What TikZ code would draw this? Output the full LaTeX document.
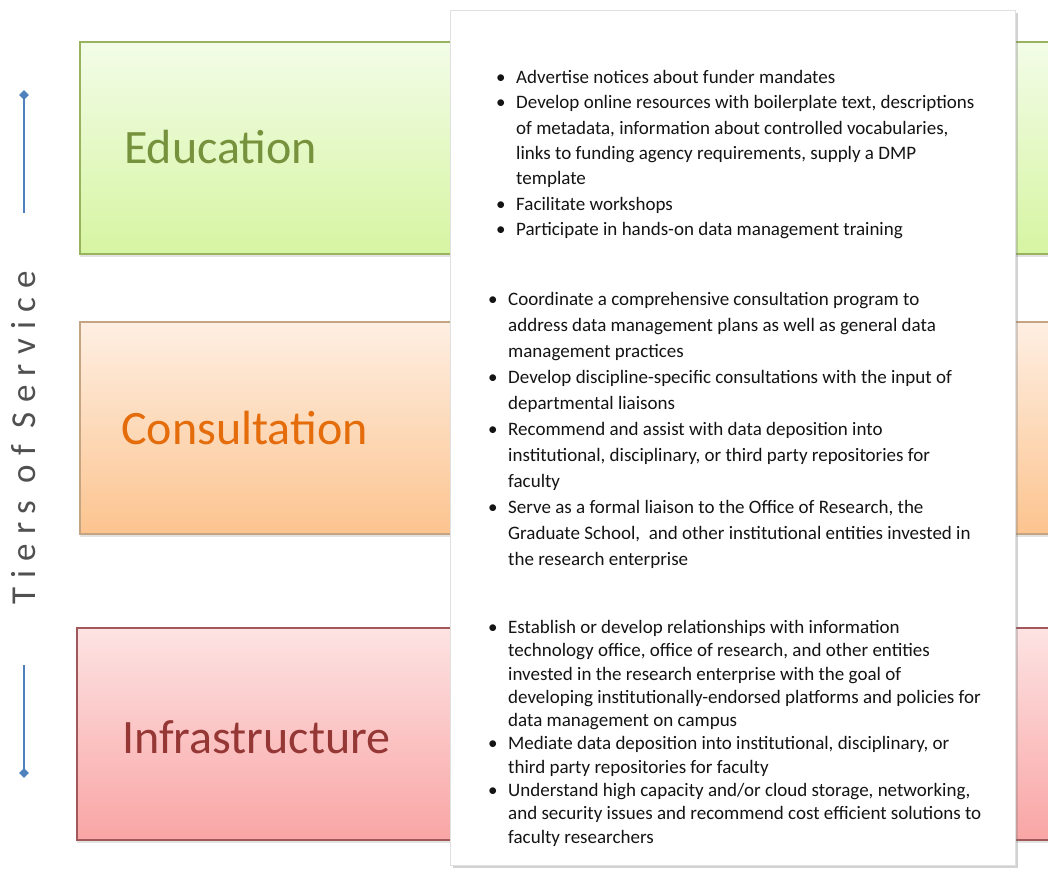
\documentclass[tikz,border=0pt]{standalone}
\usepackage{fontspec}
\setmainfont{Carlito}
\usetikzlibrary{shadows,shapes.geometric}
\definecolor{eduTop}{HTML}{F3FCE8}
\definecolor{eduBot}{HTML}{D6F5A2}
\definecolor{eduLine}{HTML}{98B25E}
\definecolor{eduText}{HTML}{76923C}
\definecolor{conTop}{HTML}{FEEFE3}
\definecolor{conBot}{HTML}{FCC48F}
\definecolor{conLine}{HTML}{C4A482}
\definecolor{conText}{HTML}{E46C0A}
\definecolor{infTop}{HTML}{FDE3E3}
\definecolor{infBot}{HTML}{F9A5A5}
\definecolor{infLine}{HTML}{A0585A}
\definecolor{infText}{HTML}{953735}
\definecolor{axisBlue}{HTML}{4F81BD}
\definecolor{tierGray}{HTML}{505050}
\definecolor{bodyText}{HTML}{141414}
\newcommand\bl{\makebox[20pt][l]{\textbullet}}
\newcommand\ct{\hspace*{20pt}}
\begin{document}
\begin{tikzpicture}[x=1pt,y=-1pt,
  band/.style={draw, line width=1.1pt, inner sep=0pt, minimum height=212pt,
    drop shadow={shadow xshift=0pt, shadow yshift=-2.5pt, opacity=0.22}},
  lbl/.style={anchor=base west, inner sep=0pt, font=\fontsize{48}{56}\selectfont},
  panelbox/.style={fill=white, draw=black!12, line width=0.6pt, inner sep=0pt,
    drop shadow={shadow xshift=3pt, shadow yshift=-3pt, opacity=0.35}},
  blist/.style={anchor=north west, inner sep=0pt, align=left, text=bodyText},
  tip/.style={diamond, fill=axisBlue, inner sep=0pt, minimum size=10pt},
  axisline/.style={draw=axisBlue, line width=1.1pt}]
\useasboundingbox (0,0) rectangle (1048,869);
\clip (0,0) rectangle (1048,869);
\fill[white] (0,0) rectangle (1048,869);

% tier bands
\node[band, draw=eduLine, top color=eduTop, bottom color=eduBot, minimum width=980pt] (edu) at (570,148) {};
\node[band, draw=conLine, top color=conTop, bottom color=conBot, minimum width=980pt] (con) at (570,428) {};
\node[band, draw=infLine, top color=infTop, bottom color=infBot, minimum width=983pt] (inf) at (568.5,734) {};

\node[lbl, text=eduText] (eduLbl) at (124,164) {Education};
\node[lbl, text=conText] (conLbl) at (121,444) {Consultation};
\node[lbl, text=infText] (infLbl) at (122,753) {Infrastructure};

% white panel
\node[panelbox, minimum width=565pt, minimum height=855pt] (panel) at (732.5,437.5) {};

\node[blist, font=\fontsize{19}{25.4}\selectfont] (eduList) at (496,70) {%
\bl Advertise notices about funder mandates\\
\bl Develop online resources with boilerplate text, descriptions\\
\ct of metadata, information about controlled vocabularies,\\
\ct links to funding agency requirements, supply a DMP\\
\ct template\\
\bl Facilitate workshops\\
\bl Participate in hands-on data management training};

\node[blist, font=\fontsize{19}{26}\selectfont] (conList) at (488,292) {%
\bl Coordinate a comprehensive consultation program to\\
\ct address data management plans as well as general data\\
\ct management practices\\
\bl Develop discipline-specific consultations with the input of\\
\ct departmental liaisons\\
\bl Recommend and assist with data deposition into\\
\ct institutional, disciplinary, or third party repositories for\\
\ct faculty\\
\bl Serve as a formal liaison to the Office of Research, the\\
\ct Graduate School,\ \ and other institutional entities invested in\\
\ct the research enterprise};

\node[blist, font=\fontsize{19}{23.3}\selectfont] (infList) at (488,620) {%
\bl Establish or develop relationships with information\\
\ct technology office, office of research, and other entities\\
\ct invested in the research enterprise with the goal of\\
\ct developing institutionally-endorsed platforms and policies for\\
\ct data management on campus\\
\bl Mediate data deposition into institutional, disciplinary, or\\
\ct third party repositories for faculty\\
\bl Understand high capacity and/or cloud storage, networking,\\
\ct and security issues and recommend cost efficient solutions to\\
\ct faculty researchers};

% tiers axis
\node[tip] (tipTop) at (24,95) {};
\coordinate (lineTopEnd) at (24,213);
\coordinate (lineBotStart) at (24,665);
\node[tip] (tipBot) at (24,773) {};
\draw[axisline] (tipTop.center) -- (lineTopEnd);
\draw[axisline] (lineBotStart) -- (tipBot.center);
\node[rotate=90, inner sep=0pt, text=tierGray,
  font=\fontsize{35}{40}\selectfont\addfontfeature{LetterSpace=26}] (tiers) at (24,438) {Tiers of Service};
\end{tikzpicture}
\end{document}
